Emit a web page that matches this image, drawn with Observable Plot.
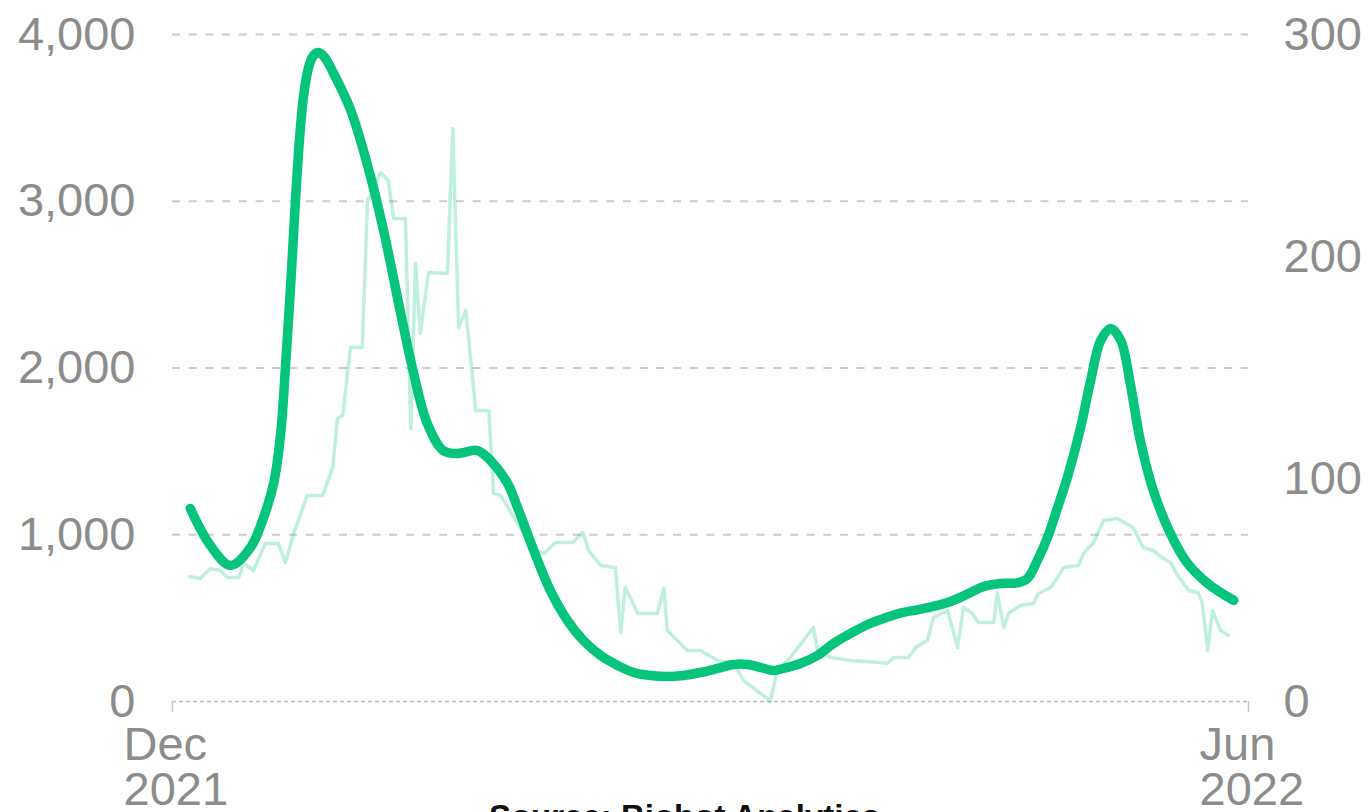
<!DOCTYPE html>
<html>
<head>
<meta charset="utf-8">
<script src="https://cdn.jsdelivr.net/npm/d3@7"></script>
<script src="https://cdn.jsdelivr.net/npm/@observablehq/plot@0.6"></script>
<style>
  html, body { margin: 0; padding: 0; background: #fff; }
  #caption { width: 1369px; text-align: center; font: bold 33px "Liberation Sans", Arial, sans-serif; line-height: 1.2; color: #111; padding-top: 2px; }
</style>
</head>
<body>
<div id="chart"></div>
<div id="caption">Source: Biobot Analytics</div>
<script>
// Days since 2021-12-01 and values
const thickDays = [3.0, 6.4, 9.8, 13.2, 15.4, 17.1, 18.3, 19.1, 20.0, 20.8, 21.5, 22.2, 23.0, 23.8, 24.7, 25.7, 27.2, 30.1, 33.0, 35.7, 38.6, 40.6, 43.1, 45.8, 48.2, 51.6, 53.8, 56.7, 58.4, 61.1, 63.9, 66.8, 69.5, 72.4, 75.3, 78.0, 80.9, 83.7, 86.4, 89.3, 92.2, 94.9, 97.3, 99.5, 101.7, 103.3, 106.2, 109.1, 111.8, 114.7, 117.6, 120.3, 123.1, 126.0, 128.7, 131.6, 134.5, 137.2, 140.1, 142.9, 144.6, 146.3, 148.0, 149.7, 151.4, 153.6, 155.3, 157.0, 158.7, 160.4, 162.0, 163.7, 165.9, 168.8, 171.7, 175.1, 179.5];
const thickValues = [1157, 936, 816, 924, 1103, 1307, 1607, 2003, 2507, 3004, 3380, 3640, 3800, 3872, 3892, 3865, 3770, 3550, 3214, 2825, 2327, 1997, 1667, 1505, 1487, 1505, 1445, 1307, 1160, 906, 666, 486, 366, 276, 216, 174, 156, 150, 156, 174, 198, 222, 222, 204, 186, 198, 228, 276, 348, 408, 462, 498, 530, 550, 570, 600, 645, 690, 708, 712, 738, 846, 983, 1163, 1349, 1643, 1925, 2165, 2237, 2165, 1907, 1565, 1265, 1007, 828, 708, 606];

const lightDays = [2.9, 4.7, 6.4, 8.1, 9.3, 11.2, 12.0, 13.7, 15.7, 17.9, 19.1, 20.5, 22.8, 25.4, 27.1, 27.9, 28.8, 30.1, 32.1, 33.0, 35.2, 36.5, 37.4, 39.4, 40.3, 41.1, 41.9, 43.3, 46.5, 47.4, 48.4, 49.6, 51.3, 53.5, 54.3, 55.5, 58.9, 61.7, 62.8, 64.8, 67.7, 69.4, 70.4, 72.4, 74.9, 75.8, 76.6, 78.7, 82.0, 83.1, 83.7, 87.1, 89.3, 92.2, 94.9, 96.6, 100.6, 101.1, 102.3, 104.5, 108.4, 109.1, 111.3, 114.7, 119.8, 120.9, 122.0, 124.5, 125.7, 127.7, 128.7, 131.1, 132.8, 133.8, 135.3, 136.3, 138.9, 139.5, 140.6, 141.4, 143.4, 145.6, 146.5, 148.5, 149.7, 150.7, 153.2, 154.1, 155.8, 157.5, 159.8, 162.5, 164.2, 165.9, 167.6, 168.8, 170.0, 171.9, 173.5, 174.2, 175.1, 175.9, 177.3, 178.6];
const lightValues = [56.2, 55.3, 59.8, 58.9, 55.8, 55.8, 62.1, 58.9, 71.1, 71.1, 62.5, 75.6, 92.7, 92.7, 105.2, 127.3, 128.6, 159.2, 159.2, 225.3, 237.9, 234.3, 217.2, 217.2, 122.8, 197, 165.5, 193, 192.5, 257.7, 168.2, 175.9, 130.9, 130.9, 93.6, 92.7, 77.8, 67.9, 66.6, 71.5, 71.5, 76, 67.9, 61.2, 60.3, 31, 51.3, 39.6, 39.6, 50.8, 31.9, 22.9, 22.9, 18.4, 17.1, 9.4, 1.3, 0, 13.9, 19.8, 33.3, 22.9, 19.8, 18.4, 17.5, 17.1, 19.8, 19.8, 24.3, 27.4, 37.8, 40.9, 24.3, 42.3, 39.6, 35.5, 35.5, 49, 33.3, 39.6, 43.2, 44.1, 48.6, 51.3, 55.8, 60.3, 61.2, 66.6, 71.5, 81.4, 82.3, 78.3, 69.3, 67.9, 64.3, 62.5, 56.7, 49.9, 49, 44.1, 22.9, 40.9, 31.9, 29.7];

const leftTicks = [0, 1000, 2000, 3000, 4000];
const rightTicks = [0, 100, 200, 300];
const xTickDays = [0, 182];
const xTickLabels = ["Dec\n2021", "Jun\n2022"];

const start = Date.UTC(2021, 11, 1);
const toDate = d => new Date(start + d * 864e5);
const k = 4000 / 300; // right axis → left axis units

const thick = thickDays.map((d, i) => ({date: toDate(d), value: thickValues[i]}));
const light = lightDays.map((d, i) => ({date: toDate(d), value: lightValues[i] * k}));
const xTicks = xTickDays.map(toDate);
const fmt = d3.format(",");
const green = "#06c47c";
const gray = "#8c8c8c";
const font = "'Liberation Sans', Arial, sans-serif";

const chart = Plot.plot({
  width: 1369,
  height: 795,
  marginLeft: 172,
  marginRight: 121,
  marginTop: 34,
  marginBottom: 94,
  style: {fontFamily: font, fontSize: "47px", color: gray, background: "white", overflow: "visible"},
  x: {type: "utc", domain: [toDate(0), toDate(182)]},
  y: {domain: [0, 4000]},
  marks: [
    Plot.gridY(leftTicks.filter(t => t > 0), {stroke: "#cccccc", strokeOpacity: 1, strokeWidth: 2, strokeDasharray: "8,8.7"}),
    Plot.ruleY([0], {stroke: "#bdbdbd", strokeWidth: 1.5, strokeDasharray: "4,3"}),
    Plot.axisY(leftTicks, {anchor: "left", tickSize: 0, tickPadding: 37, tickFormat: fmt, fill: gray, fontSize: 47, label: null}),
    Plot.axisY(rightTicks.map(t => t * k), {anchor: "right", tickSize: 0, tickPadding: 35, tickFormat: v => fmt(Math.round(v / k)), fill: gray, fontSize: 47, label: null}),
    Plot.axisX(xTicks, {anchor: "bottom", tickSize: 11, stroke: "#c4c4c4", strokeWidth: 1.5, tickFormat: () => "", label: null}),
    Plot.axisX(xTicks, {
      anchor: "bottom", tickSize: 0, tickPadding: 27,
      tickFormat: d => xTickLabels[xTicks.findIndex(t => +t === +d)],
      textAnchor: "start", dx: -49, lineHeight: 0.95, fill: gray, fontSize: 47, label: null
    }),
    Plot.line(light, {x: "date", y: "value", stroke: green, strokeOpacity: 0.26, strokeWidth: 3.5}),
    Plot.line(thick, {x: "date", y: "value", stroke: green, strokeWidth: 9.5, curve: "catmull-rom", strokeLinecap: "round", strokeLinejoin: "round"})
  ]
});
document.getElementById("chart").appendChild(chart);
</script>
</body>
</html>
